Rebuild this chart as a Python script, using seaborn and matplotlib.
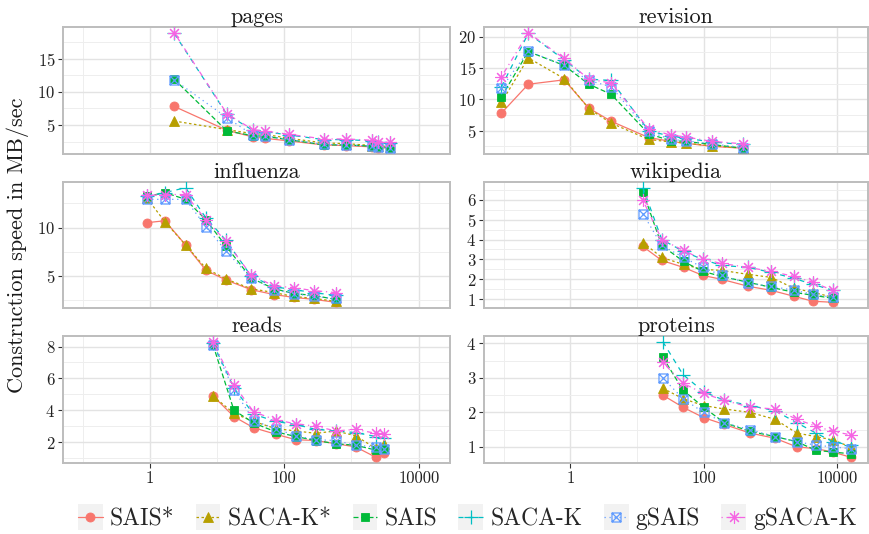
import numpy as np
import pandas as pd
import matplotlib
matplotlib.use("Agg")
import matplotlib.pyplot as plt
import seaborn as sns
from matplotlib.path import Path
from matplotlib.ticker import FixedLocator, MultipleLocator, NullFormatter, FixedFormatter
from matplotlib.legend_handler import HandlerLine2D
from matplotlib.patches import Rectangle
from matplotlib.lines import Line2D

# ---------------- data ----------------
series = ["SAIS*", "SACA-K*", "SAIS", "SACA-K", "gSAIS", "gSACA-K"]
panels = ["pages", "revision", "influenza", "wikipedia", "reads", "proteins"]

pages_x = [2.3, 14, 34, 51, 117, 385, 820, 2050, 2500, 3800]
pages_y = {
    "SAIS*":   [7.8, 4.2, 3.2, 3.0, 2.6, 2.0, 1.9, 1.7, 1.6, 1.5],
    "SACA-K*": [5.6, 4.3, 3.7, 3.6, 3.0, 2.3, 2.2, 1.9, 1.9, 1.7],
    "SAIS":    [11.9, 4.1, 3.4, 3.3, 2.8, 2.0, 2.0, 1.8, 1.7, 1.6],
    "SACA-K":  [18.8, 6.6, 4.2, 4.0, 3.5, 2.8, 2.8, 2.6, 2.5, 2.3],
    "gSAIS":   [11.8, 6.1, 3.5, 3.4, 2.8, 2.1, 2.0, 1.8, 1.7, 1.6],
    "gSACA-K": [18.9, 6.7, 4.3, 4.1, 3.6, 2.9, 2.9, 2.7, 2.5, 2.4],
}

revision_x = [0.093, 0.235, 0.81, 1.9, 4.1, 15, 32, 54, 132, 395]
revision_y = {
    "SAIS*":   [7.8, 12.4, 13.1, 8.6, 6.5, 3.9, 3.3, 3.0, 2.5, 2.2],
    "SACA-K*": [9.5, 16.6, 13.3, 8.5, 6.2, 3.6, 3.2, 3.0, 2.6, 2.2],
    "SAIS":    [10.4, 17.6, 15.4, 12.4, 10.8, 4.5, 3.4, 3.3, 2.8, 2.2],
    "SACA-K":  [12.0, 20.5, 16.3, 13.2, 13.0, 5.0, 4.1, 3.8, 3.2, 2.8],
    "gSAIS":   [11.8, 17.7, 15.4, 13.0, 12.0, 4.9, 3.6, 3.4, 2.9, 2.3],
    "gSACA-K": [13.6, 20.6, 16.5, 13.2, 12.6, 5.3, 4.3, 4.0, 3.3, 2.9],
}

influenza_x = [0.91, 1.67, 3.4, 6.8, 13.5, 32, 70, 138, 275, 580]
influenza_y = {
    "SAIS*":   [10.5, 10.7, 8.2, 5.6, 4.6, 3.6, 3.1, 2.8, 2.6, 2.3],
    "SACA-K*": [13.0, 10.6, 8.2, 5.8, 4.7, 3.7, 3.3, 2.9, 2.7, 2.4],
    "SAIS":    [13.2, 13.6, 12.9, 10.8, 8.1, 4.8, 3.7, 3.2, 3.0, 2.6],
    "SACA-K":  [13.2, 13.6, 14.1, 11.0, 8.7, 5.0, 3.9, 3.6, 3.3, 3.0],
    "gSAIS":   [12.9, 12.9, 12.9, 10.1, 7.6, 4.8, 3.6, 3.2, 2.9, 2.7],
    "gSACA-K": [13.3, 13.4, 13.4, 10.8, 8.6, 5.1, 4.0, 3.8, 3.5, 3.3],
}

wikipedia_x = [12.3, 23.6, 50, 97, 187, 470, 1030, 2270, 4360, 8700]
wikipedia_y = {
    "SAIS*":   [3.65, 2.95, 2.6, 2.2, 2.0, 1.65, 1.45, 1.15, 0.9, 0.85],
    "SACA-K*": [3.85, 3.1, 2.75, 2.5, 2.45, 2.25, 2.1, 1.55, 1.35, 1.1],
    "SAIS":    [6.4, 3.7, 2.9, 2.4, 2.15, 1.85, 1.6, 1.35, 1.2, 1.05],
    "SACA-K":  [6.6, 4.0, 3.4, 3.0, 2.7, 2.6, 2.35, 2.05, 1.75, 1.45],
    "gSAIS":   [5.3, 3.7, 3.1, 2.6, 2.2, 1.8, 1.65, 1.45, 1.25, 1.1],
    "gSACA-K": [5.97, 4.0, 3.45, 3.0, 2.8, 2.6, 2.4, 2.15, 1.85, 1.45],
}

reads_x = [8.7, 17.8, 35, 74, 148, 295, 580, 1150, 2300, 3000]
reads_y = {
    "SAIS*":   [4.9, 3.6, 2.9, 2.5, 2.15, 2.1, 1.9, 1.7, 1.05, 1.3],
    "SACA-K*": [4.9, 3.8, 3.3, 2.85, 2.7, 2.55, 2.7, 2.4, 1.6, 1.9],
    "SAIS":    [8.1, 4.0, 3.2, 2.65, 2.35, 2.1, 1.9, 1.8, 1.5, 1.55],
    "SACA-K":  [8.2, 5.4, 3.75, 3.3, 3.1, 2.8, 2.7, 2.6, 2.35, 2.25],
    "gSAIS":   [8.1, 5.3, 3.35, 2.85, 2.4, 2.15, 2.1, 1.8, 1.7, 1.55],
    "gSACA-K": [8.3, 5.6, 3.9, 3.4, 3.15, 3.0, 2.7, 2.8, 2.55, 2.5],
}

proteins_x = [24.5, 49, 100, 205, 500, 1180, 2500, 4850, 8700, 16000]
proteins_y = {
    "SAIS*":   [2.5, 2.15, 1.85, 1.65, 1.4, 1.25, 1.0, 0.95, 0.85, 0.7],
    "SACA-K*": [2.7, 2.4, 2.2, 2.1, 2.0, 1.8, 1.4, 1.3, 1.2, 1.0],
    "SAIS":    [3.6, 2.65, 2.15, 1.7, 1.45, 1.3, 1.15, 0.9, 0.85, 0.8],
    "SACA-K":  [4.05, 3.1, 2.6, 2.35, 2.2, 2.05, 1.7, 1.4, 1.15, 1.05],
    "gSAIS":   [3.0, 2.4, 2.0, 1.7, 1.5, 1.3, 1.15, 1.05, 1.0, 0.95],
    "gSACA-K": [3.45, 2.85, 2.55, 2.35, 2.15, 2.1, 1.8, 1.6, 1.45, 1.35],
}

x_ticks = [1, 100, 10000]
x_tick_labels = ["1", "100", "10000"]
y_label = "Construction speed in MB/sec"

panel_x = {"pages": pages_x, "revision": revision_x, "influenza": influenza_x,
           "wikipedia": wikipedia_x, "reads": reads_x, "proteins": proteins_x}
panel_y = {"pages": pages_y, "revision": revision_y, "influenza": influenza_y,
           "wikipedia": wikipedia_y, "reads": reads_y, "proteins": proteins_y}

# ---------------- styles ----------------
colors = ["#F8766D", "#B79F00", "#00BA38", "#00BFC4", "#619CFF", "#F564E3"]
boxx = Path([(-1, -1), (1, -1), (1, 1), (-1, 1), (-1, -1),
             (-1, -1), (1, 1), (-1, 1), (1, -1)],
            [Path.MOVETO, Path.LINETO, Path.LINETO, Path.LINETO, Path.CLOSEPOLY,
             Path.MOVETO, Path.LINETO, Path.MOVETO, Path.LINETO])
markers = ["o", "^", "s", "+", boxx, (8, 2, 0)]
msizes = [6.5, 7.0, 6.0, 10.0, 6.5, 9.0]
filled = [True, True, True, False, False, False]
mews = [0.6, 0.6, 0.6, 0.9, 0.9, 0.8]
lstyles = ["-", (0, (2, 2)), (0, (4, 2)), (0, (4, 4)), (0, (1, 3)), (0, (1, 3, 4, 3))]
lw = 0.9

sns.set_theme(style="white")
plt.rcParams["font.family"] = ["cmr10", "DejaVu Serif"]
plt.rcParams["mathtext.fontset"] = "cm"
plt.rcParams["axes.unicode_minus"] = False
plt.rcParams["axes.formatter.use_mathtext"] = True

fig = plt.figure(figsize=(8.69, 5.34), dpi=100)
W, H = 869.0, 534.0
cols = [(63, 450), (484, 868)]
rows = [(27, 154), (182, 308), (336, 463)]
yloc = {"pages": (5, 2.5), "revision": (5, 2.5), "influenza": (5, 2.5),
        "wikipedia": (1, 0.5), "reads": (2, 1), "proteins": (1, 0.5)}

allx = np.concatenate([np.array(v, float) for v in panel_x.values()])
lo, hi = np.log10(allx.min()), np.log10(allx.max())
pad = 0.05 * (hi - lo)
xlim = (10 ** (lo - pad), 10 ** (hi + pad))

handles = []
for i, name in enumerate(panels):
    r, c = divmod(i, 2)
    x0, x1 = cols[c]
    y0, y1 = rows[r]
    ax = fig.add_axes([x0 / W, 1 - y1 / H, (x1 - x0) / W, (y1 - y0) / H])
    ax.set_facecolor("white")
    xs = panel_x[name]
    for j, s in enumerate(series):
        col = colors[j]
        df = pd.DataFrame({"x": xs, "y": panel_y[name][s]})
        style = dict(color=col, linewidth=lw, linestyle=lstyles[j], marker=markers[j],
                     markersize=msizes[j], markeredgecolor=col,
                     markerfacecolor=(col if filled[j] else "none"),
                     markeredgewidth=mews[j])
        sns.lineplot(data=df, x="x", y="y", ax=ax, errorbar=None, legend=False,
                     sort=True, zorder=3 + j, **style)
        if i == 0:
            handles.append(Line2D([], [], **style))
    ax.set_xscale("log")
    ax.set_xlim(*xlim)
    ax.margins(y=0.05)
    ax.xaxis.set_major_locator(FixedLocator(x_ticks))
    ax.xaxis.set_minor_locator(FixedLocator([0.1, 10, 1000]))
    ax.xaxis.set_minor_formatter(NullFormatter())
    ax.xaxis.set_major_formatter(FixedFormatter(x_tick_labels))
    maj, mnr = yloc[name]
    ax.yaxis.set_major_locator(MultipleLocator(maj))
    ax.yaxis.set_minor_locator(MultipleLocator(mnr))
    ax.grid(True, which="major", color="#E3E3E3", linewidth=1.0, zorder=0)
    ax.grid(True, which="minor", color="#EEEEEE", linewidth=0.7, zorder=0)
    ax.set_axisbelow(True)
    for sp in ax.spines.values():
        sp.set_color("#BDBDBD")
        sp.set_linewidth(1.4)
    ax.tick_params(axis="both", which="minor", length=0)
    ax.tick_params(axis="y", which="major", length=3.5, width=0.8, color="#333333",
                   labelsize=12, labelcolor="#222222", pad=2, left=True)
    if r == 2:
        ax.tick_params(axis="x", which="major", length=3.5, width=0.8, color="#333333",
                       labelsize=12, labelcolor="#222222", pad=2, bottom=True)
    else:
        ax.tick_params(axis="x", which="major", length=0, labelbottom=False)
    ax.set_xlabel("")
    ax.set_ylabel("")
    ax.set_title(name, fontsize=16, pad=3, color="#1a1a1a")


class KeyHandler(HandlerLine2D):
    def create_artists(self, legend, orig_handle, xdescent, ydescent, width, height,
                       fontsize, trans):
        arts = super().create_artists(legend, orig_handle, xdescent, ydescent,
                                      width, height, fontsize, trans)
        rect = Rectangle((-xdescent, -ydescent - 0.2 * height), width, height * 1.4,
                         facecolor="#F2F2F2", edgecolor="none", transform=trans)
        return [rect] + list(arts)


fig.legend(handles, series, loc="center", bbox_to_anchor=(0.538, 0.028), ncol=6,
           frameon=False, fontsize=17, handlelength=1.05, handleheight=0.8,
           handletextpad=0.3, columnspacing=0.9, numpoints=1,
           handler_map={Line2D: KeyHandler(numpoints=1)})

fig.text(0.02, 1 - 245 / H, y_label, rotation=90, va="center", ha="center",
         fontsize=16, color="#1a1a1a")

fig.savefig("out.png", dpi=100, facecolor="white")
